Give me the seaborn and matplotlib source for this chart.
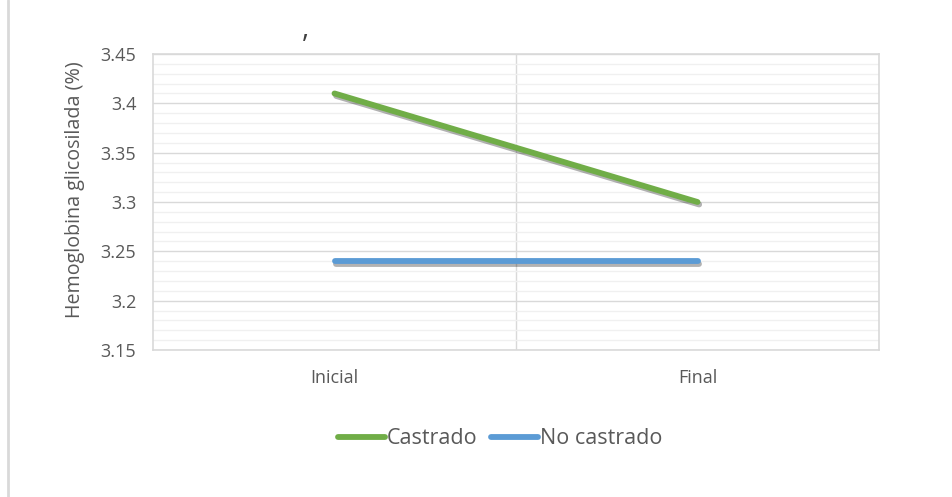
import matplotlib
matplotlib.use("Agg")
import matplotlib.pyplot as plt
import matplotlib.patheffects as pe
from matplotlib.lines import Line2D
from matplotlib.ticker import MultipleLocator
import pandas as pd
import seaborn as sns

# Data
periods = ["Inicial", "Final"]
castrado = [3.41, 3.30]
no_castrado = [3.24, 3.24]
series_names = ["Castrado", "No castrado"]
y_ticks = [3.15, 3.2, 3.25, 3.3, 3.35, 3.4, 3.45]
y_tick_labels = ["3.15", "3.2", "3.25", "3.3", "3.35", "3.4", "3.45"]
y_label = "Hemoglobina glicosilada (%)"

df = pd.DataFrame({
    "Periodo": periods * 2,
    "Valor": castrado + no_castrado,
    "Grupo": [series_names[0]] * 2 + [series_names[1]] * 2,
})

sns.set_theme(style="white")
plt.rcParams["font.family"] = ["Open Sans", "DejaVu Sans"]

text_color = "#595959"
palette = {"Castrado": "#70AD47", "No castrado": "#5B9BD5"}

fig = plt.figure(figsize=(9.52, 4.97), dpi=100)
ax = fig.add_axes([153 / 952, 1 - 350 / 497, (879 - 153) / 952, (350 - 54) / 497])

shadow = [pe.SimpleLineShadow(offset=(1.2, -1.8), shadow_color="#000000", alpha=0.3, rho=1), pe.Normal()]
sns.lineplot(data=df, x="Periodo", y="Valor", hue="Grupo", palette=palette,
             linewidth=4.2, ax=ax, legend=False, sort=False)
for ln in ax.lines:
    ln.set_solid_capstyle("round")
    ln.set_path_effects(shadow)
    ln.set_zorder(5)

ax.set_xlim(-0.5, 1.5)
ax.set_ylim(3.15, 3.45)
ax.set_yticks(y_ticks)
ax.set_yticklabels(y_tick_labels)
ax.yaxis.set_minor_locator(MultipleLocator(0.01))
ax.set_xticks([0, 1])
ax.set_xticklabels(periods)

ax.grid(False)
ax.grid(which="major", axis="y", color="#D9D9D9", linewidth=1.0, zorder=0)
ax.grid(which="minor", axis="y", color="#F0F0F0", linewidth=1.0, zorder=0)
ax.axvline(0.5, color="#D9D9D9", linewidth=1.0, zorder=0)
ax.set_axisbelow(True)

for side in ["top", "right", "left", "bottom"]:
    ax.spines[side].set_visible(True)
    ax.spines[side].set_color("#D9D9D9")
    ax.spines[side].set_linewidth(1.2)

ax.tick_params(axis="both", which="both", length=0, colors=text_color, labelsize=13)
ax.tick_params(axis="y", pad=12)
ax.tick_params(axis="x", pad=14)
ax.set_xlabel("")
ax.set_ylabel("")
fig.text(75 / 952, 1 - 190 / 497, y_label, rotation=90, ha="center", va="center",
         color=text_color, fontsize=14.2)

handles = [Line2D([0], [0], color=palette[n], linewidth=4.2, solid_capstyle="round") for n in series_names]
fig.legend(handles, series_names, loc="center", bbox_to_anchor=(500 / 952, 1 - 439 / 497),
           ncol=2, frameon=False, fontsize=15.5, labelcolor=text_color,
           handlelength=2.2, handletextpad=0.1, columnspacing=0.6)

# Title fragment and chart frame edge
fig.text(305 / 952, 1 - 30 / 497, ",", fontsize=20, color="#404040", ha="center", va="center")
fig.add_artist(Line2D([8 / 952, 8 / 952], [0, 1], color="#D9D9D9", linewidth=2.0))

fig.savefig("out.png", dpi=100, facecolor="white")
